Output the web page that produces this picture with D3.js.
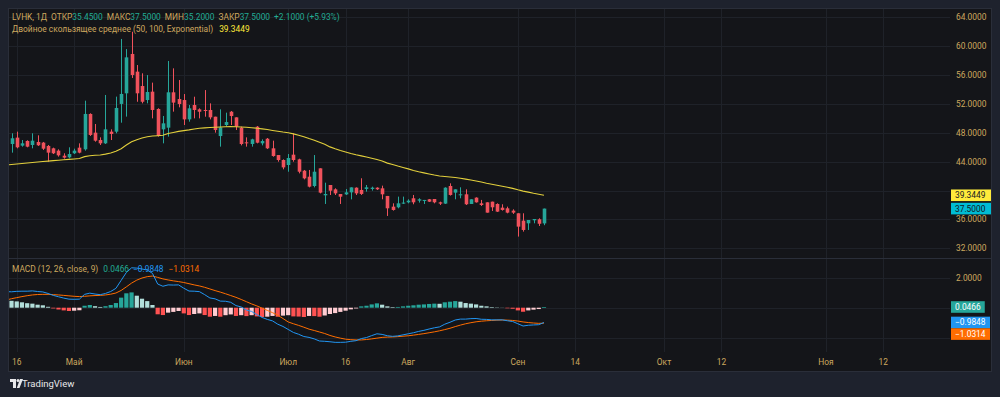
<!DOCTYPE html>
<html><head><meta charset="utf-8">
<script src="https://cdn.jsdelivr.net/npm/d3@7"></script>
<style>html,body{margin:0;padding:0;background:#1e222d;}svg{display:block}</style>
</head><body><svg id="c" width="1000" height="397"></svg>
<script>
// ---------- DATA ----------
const openP = [45.16,46.45,47.33,46.22,46.87,46.31,46.73,46.64,46.18,45.85,
45.53,44.83,44.6,45.16,45.94,45.71,50.61,48.02,47.0,46.54,
48.16,48.16,52.0,53.47,58.92,56.47,54.48,52.54,53.7,51.3,
48.48,48.71,53.61,52.68,52.54,49.86,51.85,51.25,51.16,51.16,
50.23,47.55,49.08,50.92,50.14,48.71,46.68,46.45,48.85,46.54,
47.18,45.85,44.92,44.23,43.54,44.97,44.32,42.75,41.92,40.63,
43.08,39.34,40.77,40.17,39.52,39.47,39.75,40.4,40.08,40.22,
40.22,40.4,40.31,39.25,37.77,37.68,38.23,38.37,38.93,38.6,
38.56,38.79,38.83,38.37,38.19,40.63,39.71,39.39,39.48,38.14,
39.02,38.23,38.37,38.46,38.14,37.63,37.54,37.22,36.85,35.83,
35.46,35.88,36.02,35.45];
const highP = [47.93,47.93,48.16,47.0,46.96,47.93,47.65,46.73,46.31,45.94,
45.71,45.16,45.99,45.8,46.54,52.45,50.7,49.22,47.37,53.24,
48.48,53.01,61.0,59.6,62.0,57.39,56.24,56.0,54.95,51.4,
50.33,57.95,56.93,55.31,53.37,51.85,53.0,51.39,53.92,52.08,
50.23,51.25,50.79,51.02,50.14,48.85,47.37,47.18,48.94,47.09,
47.28,46.91,44.92,44.32,45.06,47.92,44.41,42.85,42.85,44.92,
43.08,41.09,40.77,40.31,39.52,40.21,40.44,40.44,41.7,40.77,
40.54,40.45,40.68,39.25,38.23,39.16,39.16,38.79,39.39,38.93,
38.7,38.83,38.83,38.46,40.45,41.0,40.17,40.45,40.17,38.79,
39.06,38.7,38.37,38.46,38.23,38.1,37.77,37.4,36.85,36.85,
35.92,36.06,36.16,37.5];
const lowP = [44.93,45.25,45.85,46.08,45.99,45.85,46.18,45.62,44.0,45.06,
44.7,44.42,44.46,45.06,45.16,45.53,47.56,46.77,46.31,46.45,
47.0,47.93,49.4,50.24,55.6,52.3,52.08,52.08,50.0,47.47,
46.54,47.47,50.93,51.53,49.08,49.54,50.0,50.0,50.23,49.86,
48.02,46.08,48.85,49.08,48.39,46.26,46.08,46.08,46.54,46.26,
45.75,44.69,44.0,42.94,42.61,44.0,42.38,41.55,40.44,40.44,
39.61,38.14,39.38,39.38,38.14,39.38,38.78,39.38,39.39,39.85,
39.99,40.08,38.79,36.48,37.22,37.54,38.14,38.23,38.1,38.33,
38.14,38.42,38.23,38.0,38.14,39.3,38.79,38.93,38.0,38.14,
38.33,37.86,36.94,37.17,37.03,37.22,36.85,36.76,33.62,34.31,
34.54,35.46,35.09,35.2];
const closeP = [45.99,47.24,45.99,46.54,46.08,46.91,46.27,45.8,45.25,45.16,
44.88,44.56,45.06,45.53,45.25,50.61,47.7,46.91,46.54,48.48,
47.84,51.44,53.38,58.45,56.01,53.47,52.3,53.65,51.16,47.56,
49.31,53.61,52.18,51.99,49.86,51.39,51.16,50.92,51.02,50.14,
48.39,48.75,49.49,50.32,48.85,46.45,46.54,47.09,46.63,46.86,
45.85,44.78,44.23,43.21,44.51,44.23,42.61,41.69,40.54,42.61,
39.71,39.52,39.98,39.61,39.15,39.75,40.44,39.61,39.53,40.45,
40.4,40.17,39.48,37.54,37.31,38.23,38.33,38.6,38.37,38.79,
38.7,38.46,38.37,38.19,40.4,39.39,40.17,39.48,38.1,38.79,
38.37,38.0,36.94,37.68,37.08,37.31,36.94,36.94,35.0,34.54,
35.92,36.06,35.4,37.5];
const demaLine = [43.54,43.6,43.67,43.74,43.81,43.88,43.95,44.02,44.08,44.14,
44.2,44.26,44.32,44.38,44.44,44.7,44.82,44.88,44.93,45.05,
45.2,45.45,45.8,46.3,46.75,47.05,47.28,47.45,47.56,47.6,
47.65,47.9,48.05,48.2,48.3,48.4,48.52,48.62,48.68,48.73,
48.76,48.8,48.83,48.85,48.84,48.8,48.76,48.71,48.64,48.55,
48.45,48.33,48.22,48.1,48.0,47.85,47.65,47.45,47.2,46.98,
46.7,46.42,46.05,45.78,45.55,45.35,45.12,44.95,44.8,44.65,
44.48,44.3,44.1,43.8,43.62,43.4,43.2,43.0,42.78,42.6,
42.45,42.3,42.15,42.02,41.95,41.88,41.8,41.7,41.58,41.45,
41.32,41.18,41.02,40.88,40.74,40.6,40.45,40.3,40.1,39.92,
39.78,39.62,39.48,39.3449];
const macdLine = [1.07,1.06,1.09,1.1,1.1,1.12,1.08,1.05,0.95,0.82,
0.73,0.64,0.57,0.56,0.57,0.89,0.97,0.91,0.87,0.95,
1.08,1.29,1.82,2.35,2.66,2.64,2.58,2.51,2.29,1.58,
1.43,1.52,1.51,1.52,1.3,1.11,1.1,1.07,0.87,0.65,
0.59,0.44,0.43,0.36,0.14,0.05,-0.16,-0.25,-0.46,-0.65,
-0.78,-0.88,-1.1,-1.25,-1.45,-1.65,-1.77,-1.92,-1.98,-2.08,
-2.22,-2.24,-2.27,-2.31,-2.31,-2.3,-2.24,-2.2,-2.06,-1.99,
-1.86,-1.74,-1.78,-1.87,-1.91,-1.88,-1.81,-1.74,-1.67,-1.58,
-1.51,-1.42,-1.34,-1.28,-1.1,-0.97,-0.82,-0.76,-0.76,-0.73,
-0.72,-0.77,-0.78,-0.81,-0.81,-0.81,-0.87,-0.92,-1.07,-1.22,
-1.17,-1.15,-1.133,-0.9848];
const signalLine = [0.51,0.6,0.67,0.74,0.8,0.85,0.88,0.89,0.89,0.87,
0.85,0.82,0.79,0.76,0.74,0.76,0.79,0.81,0.82,0.85,
0.9,0.98,1.15,1.39,1.64,1.84,1.98,2.07,2.11,2.02,
1.92,1.85,1.79,1.74,1.68,1.6,1.52,1.45,1.36,1.25,
1.14,1.04,0.93,0.81,0.69,0.55,0.4,0.25,0.12,-0.03,
-0.18,-0.33,-0.5,-0.72,-0.95,-1.07,-1.18,-1.3,-1.43,-1.52,
-1.62,-1.72,-1.85,-1.95,-2.03,-2.1,-2.13,-2.15,-2.15,-2.12,
-2.08,-2.03,-1.98,-1.96,-1.95,-1.93,-1.9,-1.87,-1.83,-1.78,
-1.73,-1.67,-1.61,-1.54,-1.46,-1.37,-1.26,-1.16,-1.07,-1.0,
-0.94,-0.9,-0.87,-0.85,-0.83,-0.82,-0.83,-0.85,-0.89,-0.95,
-0.99,-1.02,-1.043,-1.0314];
const histBars = [0.56,0.46,0.42,0.36,0.3,0.27,0.2,0.16,0.06,-0.05,
-0.12,-0.18,-0.22,-0.2,-0.17,0.13,0.18,0.1,0.05,0.1,
0.18,0.31,0.67,0.96,1.02,0.8,0.6,0.44,0.18,-0.44,
-0.49,-0.33,-0.28,-0.22,-0.38,-0.49,-0.42,-0.38,-0.49,-0.6,
-0.55,-0.6,-0.5,-0.45,-0.55,-0.5,-0.56,-0.5,-0.58,-0.62,
-0.6,-0.55,-0.6,-0.53,-0.5,-0.58,-0.59,-0.62,-0.55,-0.56,
-0.6,-0.52,-0.42,-0.36,-0.28,-0.2,-0.11,-0.05,0.09,0.13,
0.22,0.29,0.2,0.09,0.04,0.05,0.09,0.13,0.16,0.2,
0.22,0.25,0.27,0.26,0.36,0.4,0.44,0.4,0.31,0.27,
0.22,0.13,0.09,0.04,0.02,0.01,-0.04,-0.07,-0.18,-0.27,
-0.18,-0.13,-0.09,0.0466];
const timeTickLabels = ["16","Май","Июн","Июл","16","Авг","Сен","14","Окт","12","Ноя","12"];
const timeTickBar = [2,13,34,54,65,77,98,109,126,137,157,168];
const priceTicks = [32,36,40,44,48,52,56,60,64];
const macdTicks = [-2,0,2];

// ---------- STYLE ----------
const C = {
  outer:"#1e222d", bg:"#141519", border:"#2a2e39", grid:"#1f2229",
  text:"#cda85f", up:"#26a69a", down:"#f0525c", dema:"#e2cf3c",
  macd:"#2196f3", signal:"#ff6d00", hUpStrong:"#26a69a", hUpWeak:"#b2dfdb",
  hDnWeak:"#ffcdd2", hDnStrong:"#ff5252", legendVal:"#22ab94", yellow:"#ffeb3b", cyan:"#00bcd4"
};
const FONT = "Roboto, 'Liberation Sans', sans-serif";
const FS = 8.4;

const svg = d3.select("#c");
const L = 8, R = 992, T = 8, B = 372;
const plotR = 950, mainB = 258, macdT = 259, macdB = 352;

svg.append("rect").attr("width",1000).attr("height",397).attr("fill",C.outer);
svg.append("rect").attr("x",L+0.5).attr("y",T+0.5).attr("width",R-L-1).attr("height",B-T-1)
  .attr("fill",C.bg).attr("stroke",C.border);

const x = d3.scaleLinear().domain([0,168]).range([6.3, 6.3+168*5.22]);
const y = d3.scaleLinear().domain([32,64]).range([248.3,17.3]);
const ym = d3.scaleLinear().domain([-2,2]).range([337.7,277.7]);
const barW = 3.6, histW = 4.2;

const defs = svg.append("defs");
defs.append("clipPath").attr("id","cm").append("rect").attr("x",L+1).attr("y",T+1).attr("width",plotR-L-1).attr("height",mainB-T-1);
defs.append("clipPath").attr("id","cd").append("rect").attr("x",L+1).attr("y",macdT).attr("width",plotR-L-1).attr("height",macdB-macdT);

// grid
const grid = svg.append("g").attr("stroke",C.grid).attr("stroke-width",1);
timeTickBar.forEach(b=>{
  const xx = Math.round(x(b))+0.5;
  grid.append("line").attr("x1",xx).attr("x2",xx).attr("y1",T+1).attr("y2",mainB);
  grid.append("line").attr("x1",xx).attr("x2",xx).attr("y1",macdT).attr("y2",macdB);
});
priceTicks.forEach(p=>{
  const yy = Math.round(y(p))+0.5;
  grid.append("line").attr("x1",L+1).attr("x2",plotR).attr("y1",yy).attr("y2",yy);
});
macdTicks.forEach(v=>{
  const yy = Math.round(ym(v))+0.5;
  grid.append("line").attr("x1",L+1).attr("x2",plotR).attr("y1",yy).attr("y2",yy);
});
svg.append("line").attr("x1",L+1).attr("x2",R-1).attr("y1",mainB+0.5).attr("y2",mainB+0.5).attr("stroke",C.border);

// candles
const idx = d3.range(openP.length);
const gm = svg.append("g").attr("clip-path","url(#cm)");
gm.selectAll("line.w").data(idx).join("line")
  .attr("x1",i=>Math.round(x(i))+0.5).attr("x2",i=>Math.round(x(i))+0.5)
  .attr("y1",i=>y(highP[i])).attr("y2",i=>y(lowP[i]))
  .attr("stroke",i=>closeP[i]>=openP[i]?C.up:C.down).attr("stroke-width",1);
gm.selectAll("rect.b").data(idx).join("rect")
  .attr("x",i=>Math.round(x(i))+0.5-barW/2).attr("width",barW)
  .attr("y",i=>y(Math.max(openP[i],closeP[i])))
  .attr("height",i=>Math.max(1,Math.abs(y(openP[i])-y(closeP[i]))))
  .attr("fill",i=>closeP[i]>=openP[i]?C.up:C.down);
gm.append("path").datum(idx)
  .attr("d",d3.line().x(i=>x(i)).y(i=>y(demaLine[i])))
  .attr("fill","none").attr("stroke",C.dema).attr("stroke-width",1.1);

// MACD pane
const gd = svg.append("g").attr("clip-path","url(#cd)");
const histColor = i=>{
  const h = histBars[i], p = i>0?histBars[i-1]:h;
  if (h>=0) return h>p?C.hUpStrong:C.hUpWeak;
  return h<p?C.hDnStrong:C.hDnWeak;
};
gd.selectAll("rect.h").data(idx).join("rect")
  .attr("x",i=>x(i)-histW/2).attr("width",histW)
  .attr("y",i=>Math.min(ym(0),ym(histBars[i])))
  .attr("height",i=>Math.abs(ym(histBars[i])-ym(0)))
  .attr("fill",histColor);
gd.append("path").datum(idx).attr("d",d3.line().x(i=>x(i)).y(i=>ym(signalLine[i])))
  .attr("fill","none").attr("stroke",C.signal).attr("stroke-width",1);
gd.append("path").datum(idx).attr("d",d3.line().x(i=>x(i)).y(i=>ym(macdLine[i])))
  .attr("fill","none").attr("stroke",C.macd).attr("stroke-width",1);

// value boxes (computed first so that hidden axis labels can be skipped)
const fmt = v=>d3.format(".4f")(v).replace("-","\u2212");
const last = openP.length-1;
const boxList = [];
boxList.push({v:demaLine[last], yc:y(demaLine[last]), bg:C.yellow, fg:"#131722", minW:40});
boxList.push({v:closeP[last], yc:y(closeP[last]), bg:C.cyan, fg:"#131722", minW:40});
const mb = [
  {v:histBars[last], bg:C.hUpStrong},
  {v:macdLine[last], bg:C.macd},
  {v:signalLine[last], bg:C.signal}
].sort((a,b)=>b.v-a.v);
let prevBottom = -Infinity;
mb.forEach(o=>{
  let yc = ym(o.v);
  if (yc-5.8 < prevBottom) yc = prevBottom+5.8;
  prevBottom = yc+5.8;
  boxList.push({v:o.v, yc, bg:o.bg, fg:"#ffffff", minW:o.v<0?39:0});
});
const hidden = yy => boxList.some(b=>Math.abs(b.yc-yy)<10);

const txt = (g)=>g.attr("font-family",FONT).attr("font-size",FS);
const axR = svg.append("g").call(txt).attr("fill",C.text);
priceTicks.filter(p=>!hidden(y(p))).forEach(p=>axR.append("text").attr("x",956).attr("y",y(p)).attr("dy","0.35em").text(d3.format(".4f")(p)));
macdTicks.filter(v=>v!==0 && !hidden(ym(v))).forEach(v=>axR.append("text").attr("x",956).attr("y",ym(v)).attr("dy","0.35em").text(fmt(v)));
const axB = svg.append("g").call(txt).attr("fill",C.text).attr("text-anchor","middle");
timeTickLabels.forEach((t,k)=>axB.append("text").attr("x",x(timeTickBar[k])).attr("y",362).attr("dy","0.35em").text(t));

const boxes = svg.append("g").call(txt);
boxList.forEach(b=>{
  const gg = boxes.append("g");
  const t = gg.append("text").attr("x",955).attr("y",b.yc).attr("dy","0.35em").attr("fill",b.fg).text(fmt(b.v));
  const w = Math.max(b.minW, t.node().getComputedTextLength()+8);
  gg.insert("rect","text").attr("x",951).attr("y",b.yc-5.8).attr("width",w).attr("height",11.6).attr("fill",b.bg);
});

// legends
function legendRow(yc, segs){
  const t = svg.append("text").call(txt).attr("x",12).attr("y",yc).attr("dy","0.35em");
  segs.forEach(s=>t.append("tspan").attr("fill",s.c).attr("dx",s.gap||0).text(s.t));
}
const chg = closeP[last]-closeP[last-1];
legendRow(17, [
  {t:"LVHK, 1Д", c:C.text},
  {t:"ОТКР", c:C.text, gap:4},{t:fmt(openP[last]), c:C.legendVal},
  {t:"МАКС", c:C.text, gap:4},{t:fmt(highP[last]), c:C.legendVal},
  {t:"МИН", c:C.text, gap:4},{t:fmt(lowP[last]), c:C.legendVal},
  {t:"ЗАКР", c:C.text, gap:4},{t:fmt(closeP[last]), c:C.legendVal},
  {t:"+"+fmt(chg)+" (+"+d3.format(".2f")(chg/closeP[last-1]*100)+"%)", c:C.legendVal, gap:4}
]);
legendRow(29.5, [
  {t:"Двойное скользящее среднее (50, 100, Exponential)", c:C.text},
  {t:fmt(demaLine[last]), c:C.yellow, gap:6}
]);
legendRow(269, [
  {t:"MACD (12, 26, close, 9)", c:C.text},
  {t:fmt(histBars[last]), c:C.legendVal, gap:5},
  {t:fmt(macdLine[last]), c:C.macd, gap:4},
  {t:fmt(signalLine[last]), c:C.signal, gap:5}
]);

// TradingView logo
const lg = svg.append("g").attr("transform","translate(10,379)");
lg.append("path").attr("d","M0 0H6V9H3V3H0Z").attr("fill","#e8e8ea");
lg.append("circle").attr("cx",8).attr("cy",1.5).attr("r",1.5).attr("fill","#e8e8ea");
lg.append("path").attr("d","M10 0H13L9.5 9H6.8Z").attr("fill","#e8e8ea");
svg.append("text").attr("x",22).attr("y",384).attr("dy","0.35em").attr("font-family",FONT)
  .attr("font-size",9.5).attr("fill","#e8e8ea").text("TradingView");
</script></body></html>
